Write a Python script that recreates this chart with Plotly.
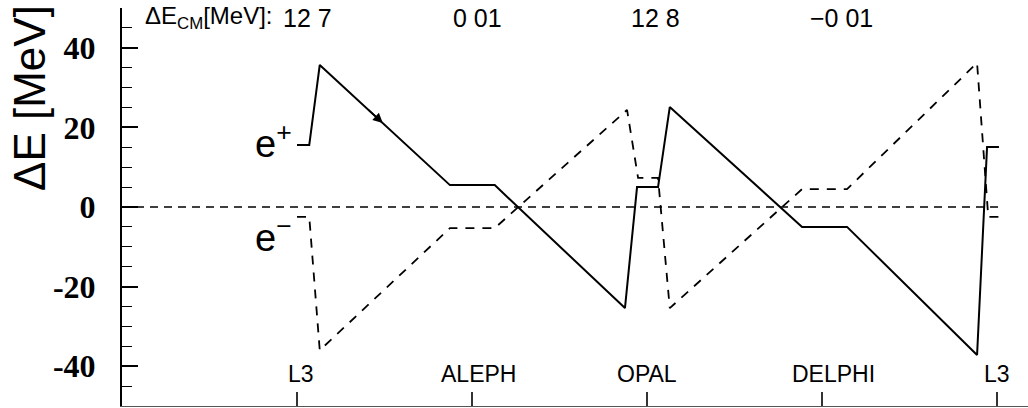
import plotly.graph_objects as go

# ---- data ----
# position along the ring in quarter-ring units: 0=L3, 1=ALEPH, 2=OPAL, 3=DELPHI, 4=L3
experiments = ["L3", "ALEPH", "OPAL", "DELPHI", "L3"]
exp_pos = [0, 1, 2, 3, 4]
dE_cm_labels = ["12 7", "0 01", "12 8", "\u22120 01"]
y_tick_vals = [-40, -20, 0, 20, 40]
y_tick_text = ["-40", "-20", "0", "20", "40"]

e_plus_x = [0.0, 0.07, 0.13, 0.874, 1.13, 1.874, 1.943, 2.063, 2.13, 2.886, 3.143, 3.886, 3.943, 4.011]
e_plus_y = [15.6, 15.6, 35.7, 5.5, 5.5, -25.4, 5.0, 5.0, 25.1, -5.0, -5.0, -37.2, 15.1, 15.1]

e_minus_x = [0.0, 0.07, 0.13, 0.874, 1.13, 1.886, 1.949, 2.063, 2.13, 2.886, 3.143, 3.886, 3.95, 4.011]
e_minus_y = [-2.5, -2.5, -36.0, -5.3, -5.3, 24.4, 7.3, 7.3, -25.4, 4.5, 4.5, 36.2, -2.5, -2.5]

zero_x = [-1.0, 4.011]
zero_y = [0, 0]

SERIF = "Liberation Serif, Times New Roman, serif"
SANS = "Liberation Sans, Arial, sans-serif"

# ---- figure ----
fig = go.Figure()
fig.add_trace(go.Scatter(x=zero_x, y=zero_y, mode="lines",
                         line=dict(color="black", width=1.5, dash="8px,6px"),
                         showlegend=False, hoverinfo="skip"))
fig.add_trace(go.Scatter(x=e_minus_x, y=e_minus_y, mode="lines",
                         line=dict(color="black", width=1.8, dash="9px,8px"),
                         showlegend=False))
fig.add_trace(go.Scatter(x=e_plus_x, y=e_plus_y, mode="lines",
                         line=dict(color="black", width=2),
                         showlegend=False))

X0, X1 = -1.0, 4.177
fig.update_layout(
    width=1028, height=408,
    margin=dict(l=122, r=0, t=8, b=2),
    paper_bgcolor="white", plot_bgcolor="white",
    showlegend=False,
    font=dict(family=SANS, color="black"),
    xaxis=dict(range=[X0, X1], showgrid=False, zeroline=False,
               showline=True, linecolor="#555", linewidth=1.2,
               tickvals=exp_pos, ticks="inside", ticklen=14, tickwidth=1.5,
               tickcolor="#333", showticklabels=False),
    yaxis=dict(range=[-50, 50], showgrid=False, zeroline=False,
               showline=True, linecolor="black", linewidth=2,
               tickmode="array",
               tickvals=y_tick_vals,
               ticktext=y_tick_text,
               ticks="inside", ticklen=16, tickwidth=1.5, tickcolor="black",
               ticklabelstandoff=18,
               minor=dict(dtick=5, tick0=0, ticks="inside", ticklen=10,
                          tickwidth=1.2, tickcolor="black")),
)
fig.update_yaxes(tickfont_family=SERIF, tickfont_size=32, tickfont_weight="bold",
                 tickfont_color="black")

ann = []
# y-axis title
ann.append(dict(xref="paper", yref="paper", x=(30 - 122) / 906, y=(406 - 98) / 398,
                text="\u0394E [MeV]", textangle=-90, showarrow=False,
                xanchor="center", yanchor="middle",
                font=dict(family=SANS, size=44, color="black")))
# top label
ann.append(dict(x=-0.88, y=47.5, xref="x", yref="y", text="\u0394E<sub>CM</sub>[MeV]:",
                showarrow=False, xanchor="left", yanchor="middle",
                font=dict(family=SANS, size=24, color="black")))
top_offsets = [0.06, 0.03, 0.05, 0.11]
for p, lab, off in zip(exp_pos[:4], dE_cm_labels, top_offsets):
    ann.append(dict(x=p + off, y=47.5, xref="x", yref="y", text=lab, showarrow=False,
                    xanchor="center", yanchor="middle",
                    font=dict(family=SANS, size=25, color="black")))
# bottom experiment labels
bot_offsets = [0.02, 0.035, 0.0, 0.065, 0.0]
for p, lab, off in zip(exp_pos, experiments, bot_offsets):
    ann.append(dict(x=p + off, y=-42, xref="x", yref="y", text=lab, showarrow=False,
                    xanchor="center", yanchor="middle",
                    font=dict(family=SANS, size=23, color="black")))
# e+ / e- labels
ann.append(dict(x=-0.02, y=16.5, xref="x", yref="y", text="e<sup>+</sup>", showarrow=False,
                xanchor="right", yanchor="middle",
                font=dict(family=SANS, size=38, color="black")))
ann.append(dict(x=-0.02, y=-7.0, xref="x", yref="y", text="e<sup>\u2212</sup>", showarrow=False,
                xanchor="right", yanchor="middle",
                font=dict(family=SANS, size=38, color="black")))
# direction arrow on e+ line
ann.append(dict(x=0.49, y=21.1, ax=0.40, ay=24.75, xref="x", yref="y", axref="x", ayref="y",
                text="", showarrow=True, arrowhead=2, arrowsize=1.3, arrowwidth=1.5,
                arrowcolor="black"))
fig.update_layout(annotations=ann)

fig.write_html("out.html")
